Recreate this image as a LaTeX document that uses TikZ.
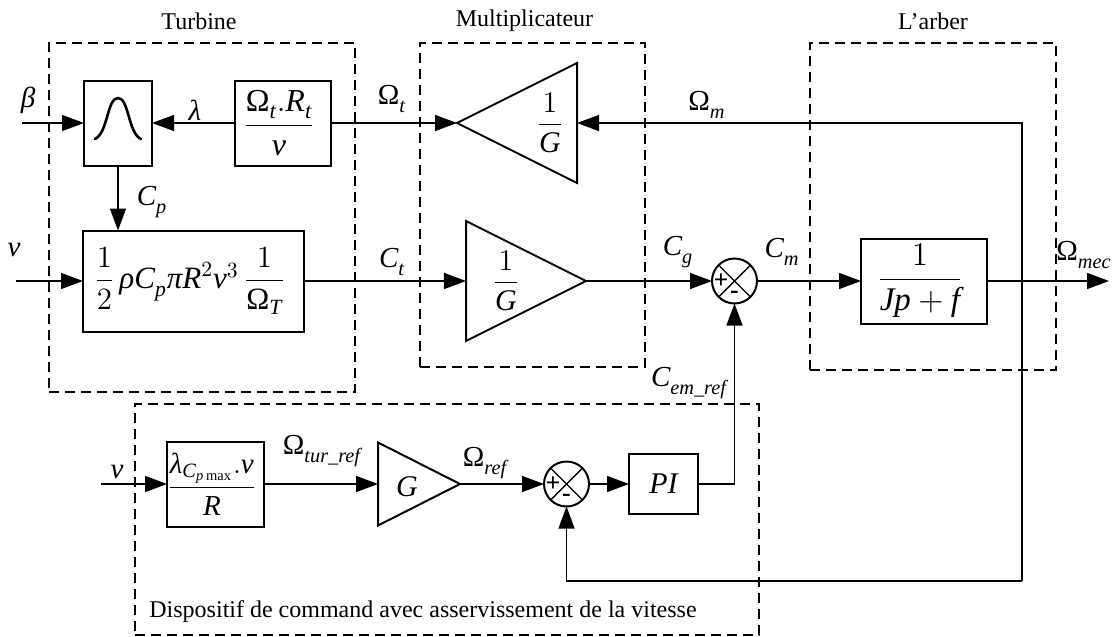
\documentclass[tikz,border=0pt]{standalone}
\usepackage{fix-cm}
\usepackage{amsmath}
\usepackage{fontspec}
\setmainfont{Liberation Serif}
\usetikzlibrary{arrows.meta,positioning,fit,backgrounds,shapes.geometric}
\newcommand{\sym}[1]{\text{\itshape #1}}
\newcommand{\dn}[1]{\sym{#1}\rule{0pt}{9pt}}
\newcommand{\Om}{\text{Ω}}

\begin{document}
\begin{tikzpicture}[
  x=.5pt, y=-.5pt,
  font=\fontsize{12}{14}\selectfont,
  block/.style={draw, line width=1pt, inner sep=0pt, outer sep=0pt, align=center},
  gain/.style={draw, line width=1pt, isosceles triangle, isosceles triangle stretches, inner sep=0pt, outer sep=0pt},
  sumnode/.style={circle, draw, line width=1pt, minimum size=22.5pt, inner sep=0pt, outer sep=0pt,
    path picture={
      \draw[line width=.7pt] (path picture bounding box.north west) -- (path picture bounding box.south east);
      \draw[line width=.7pt] (path picture bounding box.south west) -- (path picture bounding box.north east);
    }},
  sign/.style={inner sep=0pt, font=\fontsize{13}{13}\selectfont\bfseries},
  group/.style={draw, dash pattern=on 5pt off 3pt, line width=.6pt, inner sep=0pt},
  title/.style={inner sep=0pt},
  sig/.style={inner sep=0pt, font=\fontsize{14.5}{16}\selectfont},
  arrow/.style={-{Triangle[length=11pt, width=8pt]}, line width=.7pt}
]

\path[use as bounding box] (0,0) rectangle (1114,637);

\node[block, minimum width=34pt, minimum height=42.5pt] (lookup) at (118,123) {};
\node[block, minimum width=48pt, minimum height=42.5pt, right=41.5pt of lookup, font=\fontsize{16}{18}\selectfont] (ratio) {
  $\dfrac{\Om_{\dn{t}}.\sym{R}_{\dn{t}}}{\sym{v}}$
};
\node[block, minimum width=110.5pt, minimum height=50.5pt, below right=32.5pt and -.5pt of lookup.south west, font=\fontsize{15.5}{17}\selectfont] (power) {
  $\dfrac{1}{2}\,\sym{ρC}_{\dn{p}}\sym{πR}^{2}\sym{v}^{3}\,\dfrac{1}{\Om_{\sym{T}}}$
};

\node[gain, shape border rotate=180, minimum width=60pt, minimum height=60pt, right=63pt of ratio] (gaintop) {};
\node[gain, minimum width=60pt, minimum height=60pt, right=81pt of power] (gainbot) {};
\node[sumnode, right=63pt of gainbot] (sumtop) {};
\node[block, minimum width=63pt, minimum height=42.5pt, right=52pt of sumtop, font=\fontsize{16.5}{18}\selectfont] (shaft) {
  $\dfrac{1}{\sym{Jp}+\sym{f}}$
};

\node[block, minimum width=48.5pt, minimum height=42.5pt, font=\fontsize{14.5}{17}\selectfont] (lambdaref) at (215.5,484) {
  $\dfrac{\sym{λ}_{\sym{C}_{\sym{p}\,\text{max}}}.\sym{v}}{\sym{R}}$
};
\node[gain, minimum width=41.5pt, minimum height=41pt, right=57pt of lambdaref] (gainref) {};
\node[sumnode, right=42pt of gainref] (sumbot) {};
\node[block, minimum width=34.5pt, minimum height=30pt, right=20pt of sumbot, font=\fontsize{15}{17}\selectfont] (pi) {$\sym{PI}$};

\node[sign] (plustop) at ([xshift=4.5pt]sumtop.west) {+};
\node[sign] (minustop) at ([yshift=4.5pt]sumtop.south) {-};
\node[sign] (plusbot) at ([xshift=4.5pt]sumbot.west) {+};
\node[sign] (minusbot) at ([yshift=4.5pt]sumbot.south) {-};

\node[inner sep=0pt, font=\fontsize{15}{17}\selectfont] (invtop) at (550,123) {$\dfrac{1}{\sym{G}}$};
\node[inner sep=0pt, font=\fontsize{15}{17}\selectfont] (invbot) at (506,281) {$\dfrac{1}{\sym{G}}$};
\node[inner sep=0pt, font=\fontsize{15}{17}\selectfont] (gref) at (407,487) {$\sym{G}$};

\coordinate[left=31pt of lookup] (inbeta);
\coordinate[left=33.5pt of power] (inwind);
\coordinate[left=33pt of lambdaref] (inref);
\coordinate[right=61pt of shaft] (outmec);
\coordinate (fbtop) at (1022,123);
\coordinate (fbbot) at (1022,581);

\draw[line width=1.3pt, line cap=round] (95,139) .. controls (108,133) and (107,98) .. (118,98) .. controls (129,98) and (128,133) .. (141,139);

\draw[arrow] (inbeta) -- (lookup);
\draw[arrow] (ratio) -- (lookup);
\draw[arrow] (lookup) -- (lookup |- power.north);
\draw[arrow] (inwind) -- (power);
\draw[arrow] (ratio) -- (gaintop.apex);
\draw[arrow] (power) -- (gainbot);
\draw[arrow] (gainbot.apex) -- (sumtop);
\draw[arrow] (sumtop) -- (shaft);
\draw[arrow] (shaft) -- (outmec);
\draw[arrow] (fbbot) -- (fbtop) -- (gaintop.lower side);
\draw[arrow] (fbbot) -| (sumbot.south);
\draw[arrow] (inref) -- (lambdaref);
\draw[arrow] (lambdaref) -- (gainref);
\draw[arrow] (gainref.apex) -- (sumbot);
\draw[arrow] (sumbot) -- (pi);
\draw[arrow] (pi) -| (sumtop.south);

\node[sig] (lblbeta) at (28,100) {$\sym{β}$};
\node[sig] (lbllambda) at (195,110) {$\sym{λ}$};
\node[sig] (lblcp) at (152,202) {$\sym{C}_{\dn{p}}$};
\node[sig] (lblwind) at (14,250) {$\sym{v}$};
\node[sig] (lblomt) at (392,99) {$\Om_{\dn{t}}$};
\node[sig] (lblct) at (392,262) {$\sym{C}_{\dn{t}}$};
\node[sig] (lblomm) at (707,105) {$\Om_{\dn{m}}$};
\node[sig] (lblcg) at (678,252) {$\sym{C}_{\dn{g}}$};
\node[sig] (lblcm) at (782,252) {$\sym{C}_{\dn{m}}$};
\node[sig] (lblommec) at (1084,255) {$\Om_{\dn{mec}}$};
\node[sig] (lblcem) at (689,383) {$\sym{C}_{\dn{em\_ref}}$};
\node[sig] (lblwindref) at (117,472) {$\sym{v}$};
\node[sig] (lbltur) at (322,451) {$\Om_{\dn{tur\_ref}}$};
\node[sig] (lblref) at (485,463) {$\Om_{\dn{ref}}$};
\node[title] (lblcmd) at (423,612) {Dispositif de command avec asservissement de la vitesse};

\begin{scope}[on background layer]
  \node[group, fit={(49,43)(355,392)}, label={[title, label distance=6pt, xshift=-1.5pt]above:Turbine}] (turbinebox) {};
  \node[group, fit={(420,43)(645,367)}, label={[title, label distance=5pt, xshift=-4pt]above:Multiplicateur}] (multbox) {};
  \node[group, fit={(810,43)(1056,370)}, label={[title, label distance=6pt]above:L’arber}] (shaftbox) {};
  \node[group, fit={(135,404)(759,635)}] (cmdbox) {};
\end{scope}

\end{tikzpicture}
\end{document}
